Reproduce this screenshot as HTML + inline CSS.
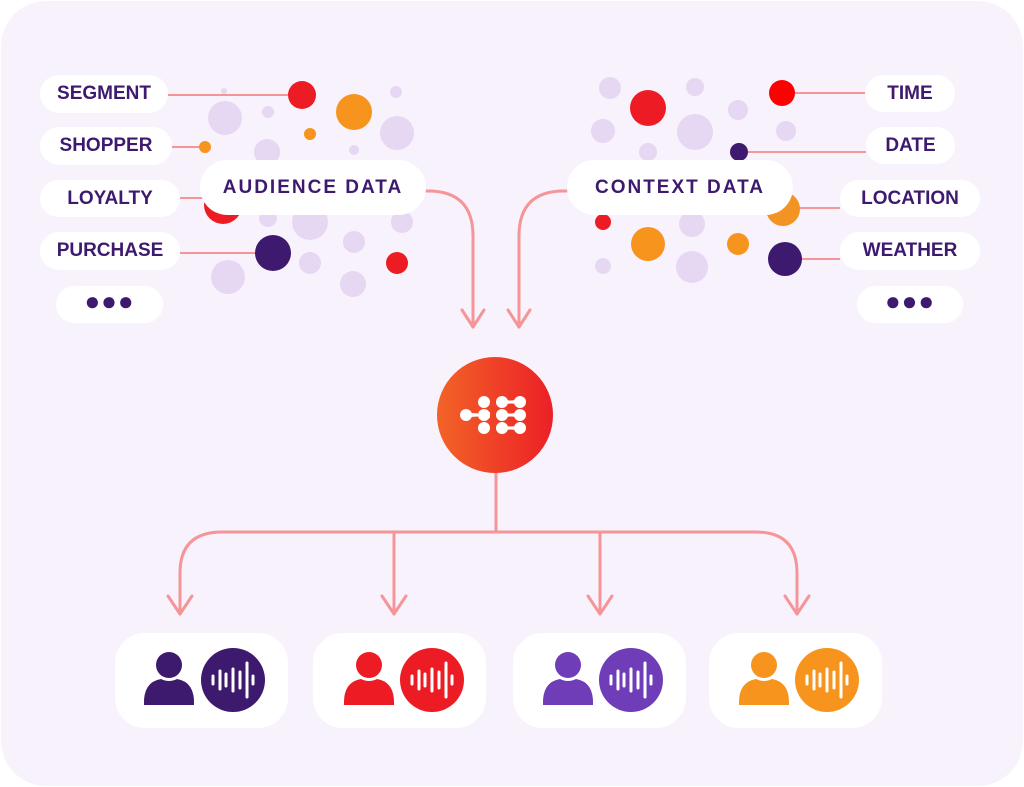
<!DOCTYPE html>
<html><head><meta charset="utf-8"><style>
html,body{margin:0;padding:0;background:#fff;}
body{width:1024px;height:787px;position:relative;overflow:hidden;font-family:"Liberation Sans",sans-serif;}
.bg{position:absolute;left:1px;top:1px;width:1022px;height:785px;border-radius:45px;background:#f8f2fd;}
.pill{position:absolute;background:#fff;border-radius:20px;color:#3d1a6e;font-weight:bold;font-size:19px;display:flex;align-items:center;justify-content:center;}
.big{border-radius:28px;font-size:19px;letter-spacing:2px;}
.card{position:absolute;background:#fff;border-radius:30px;top:633px;width:173px;height:95px;}
svg{position:absolute;left:0;top:0;}
</style></head><body>
<div class="bg"></div>
<svg width="1024" height="787">
<g fill="#e6d7f2">
<circle cx="224" cy="91" r="3"/><circle cx="225" cy="118" r="17"/><circle cx="268" cy="112" r="6"/>
<circle cx="396" cy="92" r="6"/><circle cx="397" cy="133" r="17"/><circle cx="267" cy="152" r="13"/>
<circle cx="354" cy="150" r="5"/><circle cx="268" cy="218" r="9"/><circle cx="310" cy="222" r="18"/>
<circle cx="354" cy="242" r="11"/><circle cx="402" cy="222" r="11"/><circle cx="228" cy="277" r="17"/>
<circle cx="310" cy="263" r="11"/><circle cx="353" cy="284" r="13"/>
<circle cx="610" cy="88" r="11"/><circle cx="695" cy="87" r="9"/><circle cx="603" cy="131" r="12"/>
<circle cx="695" cy="132" r="18"/><circle cx="738" cy="110" r="10"/><circle cx="786" cy="131" r="10"/>
<circle cx="648" cy="152" r="9"/><circle cx="692" cy="224" r="13"/><circle cx="603" cy="266" r="8"/>
<circle cx="692" cy="267" r="16"/>
</g>
<g stroke="#f59598" stroke-width="2" fill="none">
<line x1="168" y1="95" x2="300" y2="95"/><line x1="172" y1="147" x2="205" y2="147"/>
<line x1="180" y1="198" x2="210" y2="198"/><line x1="180" y1="253" x2="270" y2="253"/>
<line x1="783" y1="93" x2="865" y2="93"/><line x1="739" y1="152" x2="866" y2="152"/>
<line x1="783" y1="208" x2="840" y2="208"/><line x1="785" y1="259" x2="840" y2="259"/>
</g>
<circle cx="302" cy="95" r="14" fill="#ed1c24"/><circle cx="354" cy="112" r="18" fill="#f7941d"/>
<circle cx="310" cy="134" r="6" fill="#f7941d"/><circle cx="205" cy="147" r="6" fill="#f7941d"/>
<circle cx="223" cy="205" r="19" fill="#ed1c24"/><circle cx="273" cy="253" r="18" fill="#3d1a6e"/>
<circle cx="397" cy="263" r="11" fill="#ed1c24"/>
<circle cx="782" cy="93" r="13" fill="#ff0000"/><circle cx="648" cy="108" r="18" fill="#ed1c24"/>
<circle cx="739" cy="152" r="9" fill="#3d1a6e"/><circle cx="783" cy="209" r="17" fill="#f39324"/>
<circle cx="603" cy="222" r="8" fill="#ed1c24"/><circle cx="648" cy="244" r="17" fill="#f7941d"/>
<circle cx="738" cy="244" r="11" fill="#f7941d"/><circle cx="785" cy="259" r="17" fill="#3d1a6e"/>
<g stroke="#f59598" stroke-width="3" fill="none" stroke-linecap="round" stroke-linejoin="round">
<path d="M426 191 H428 Q473 191 473 236 V327"/><path d="M462 310 L473 327 L484 310"/>
<path d="M567 191 H564 Q519 191 519 236 V327"/><path d="M508 310 L519 327 L530 310"/>
<path d="M496 473 V532"/>
<path d="M222 532 H756 Q797 532 797 573 V614"/><path d="M222 532 Q180 532 180 573 V614"/>
<line x1="394" y1="532" x2="394" y2="614"/><line x1="600" y1="532" x2="600" y2="614"/>
<path d="M168 596 L180 614 L192 596"/><path d="M382 596 L394 614 L406 596"/>
<path d="M588 596 L600 614 L612 596"/><path d="M785 596 L797 614 L809 596"/>
</g>
<defs><linearGradient id="g" x1="0" x2="1"><stop offset="0" stop-color="#f26327"/><stop offset="1" stop-color="#ec2027"/></linearGradient></defs>
<circle cx="495" cy="415" r="58" fill="url(#g)"/>
<g fill="#fff">
<circle cx="484" cy="402" r="6"/><circle cx="484" cy="428" r="6"/>
<circle cx="466" cy="415" r="6"/><path d="M466 412 Q478 415 490 412 V418 Q478 415 466 418Z"/><circle cx="484" cy="415" r="6"/>
<circle cx="502" cy="402" r="6"/><circle cx="520" cy="402" r="6"/><path d="M502 399 Q511 402 520 399 V405 Q511 402 502 405Z"/>
<circle cx="502" cy="415" r="6"/><circle cx="520" cy="415" r="6"/><path d="M502 412 Q511 415 520 412 V418 Q511 415 502 418Z"/>
<circle cx="502" cy="428" r="6"/><circle cx="520" cy="428" r="6"/><path d="M502 425 Q511 428 520 425 V431 Q511 428 502 431Z"/>
</g>
</svg>
<div class="pill" style="left:40px;top:75px;width:128px;height:38px;">SEGMENT</div>
<div class="pill" style="left:40px;top:127px;width:132px;height:38px;">SHOPPER</div>
<div class="pill" style="left:40px;top:180px;width:140px;height:37px;">LOYALTY</div>
<div class="pill" style="left:40px;top:232px;width:140px;height:38px;">PURCHASE</div>
<div class="pill" style="left:56px;top:286px;width:107px;height:37px;font-size:26px;letter-spacing:1px;padding-bottom:6px;box-sizing:border-box;">●●●</div>
<div class="pill big" style="left:200px;top:160px;width:226px;height:55px;">AUDIENCE DATA</div>
<div class="pill big" style="left:567px;top:160px;width:226px;height:55px;">CONTEXT DATA</div>
<div class="pill" style="left:865px;top:75px;width:90px;height:37px;">TIME</div>
<div class="pill" style="left:866px;top:127px;width:89px;height:37px;">DATE</div>
<div class="pill" style="left:840px;top:180px;width:140px;height:37px;">LOCATION</div>
<div class="pill" style="left:840px;top:232px;width:140px;height:38px;">WEATHER</div>
<div class="pill" style="left:857px;top:286px;width:106px;height:37px;font-size:26px;letter-spacing:1px;padding-bottom:6px;box-sizing:border-box;">●●●</div>

<div class="card" style="left:115px"></div><div class="card" style="left:313px"></div>
<div class="card" style="left:513px"></div><div class="card" style="left:709px"></div>
<svg width="1024" height="787">
<defs>
<g id="u"><circle cx="0" cy="-15" r="13"/><path d="M-25 25 Q-26 2 -8 -1 Q0 3 8 -1 Q26 2 25 25 Z"/></g>
<g id="w" stroke="#fff" stroke-width="3" stroke-linecap="round"><line x1="-20" y1="-4" x2="-20" y2="4"/><line x1="-13" y1="-9" x2="-13" y2="9"/><line x1="-7" y1="-6" x2="-7" y2="6"/><line x1="0" y1="-11" x2="0" y2="11"/><line x1="7" y1="-8" x2="7" y2="8"/><line x1="14" y1="-17" x2="14" y2="17"/><line x1="20" y1="-4" x2="20" y2="4"/></g>
</defs>
<g fill="#3d1a6e"><use href="#u" x="169" y="680"/><circle cx="233" cy="680" r="32"/></g><use href="#w" x="233" y="680"/>
<g fill="#ed1c24"><use href="#u" x="369" y="680"/><circle cx="432" cy="680" r="32"/></g><use href="#w" x="432" y="680"/>
<g fill="#6f3db8"><use href="#u" x="568" y="680"/><circle cx="631" cy="680" r="32"/></g><use href="#w" x="631" y="680"/>
<g fill="#f7941d"><use href="#u" x="764" y="680"/><circle cx="827" cy="680" r="32"/></g><use href="#w" x="827" y="680"/>
</svg>
</body></html>
